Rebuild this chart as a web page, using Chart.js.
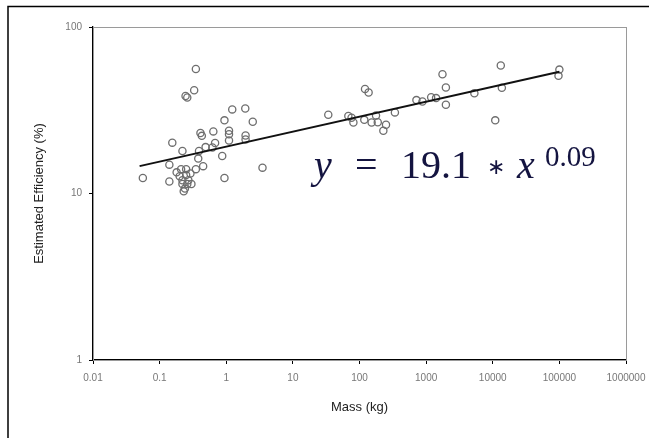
<!DOCTYPE html>
<html>
<head>
<meta charset="utf-8">
<script src="https://cdn.jsdelivr.net/npm/chart.js@4/dist/chart.umd.min.js"></script>
<style>
  html, body { margin: 0; padding: 0; background: #fff; }
  #wrap { width: 649px; height: 438px; }
</style>
</head>
<body>
<div id="wrap"><canvas id="effChart" width="649" height="438"></canvas></div>
<script>
// mass (kg) and estimated efficiency (%)
const massKg = [
  0.056, 0.14, 0.14, 0.155, 0.22, 0.35, 0.245, 0.26, 0.33,
  0.18, 0.21, 0.25, 0.2, 0.25, 0.29, 0.22, 0.27, 0.22, 0.26, 0.24, 0.23, 0.30,
  0.35, 0.38, 0.39, 0.45, 0.41, 0.43, 0.49, 0.64, 0.62, 0.68, 0.87, 0.94, 0.94,
  1.1, 1.1, 1.1, 1.23, 1.93, 1.95, 1.95, 2.5, 3.5,
  34, 68, 76, 81, 121, 137, 118, 152, 177, 188, 250, 228, 340,
  715, 880, 1190, 1410, 1760, 1980, 1980, 5300, 10900, 13200, 13700, 100000, 97000
];
const efficiency = [
  12.4, 11.8, 14.9, 20.2, 18, 56, 38.5, 37.7, 41.7,
  13.4, 14, 14, 12.7, 12.9, 13.2, 12.0, 12.0, 11.4, 11.4, 10.7, 10.3, 11.4,
  14, 16.2, 18, 14.6, 23.1, 22.2, 19, 23.6, 18.9, 20.1, 16.8, 12.4, 27.5,
  23.8, 22.7, 20.8, 32, 32.4, 22.3, 21.1, 27, 14.3,
  29.7, 29.2, 28.5, 26.7, 42.4, 40.4, 27.7, 26.7, 29.4, 26.8, 25.9, 23.8, 30.7,
  36.4, 35.7, 37.9, 37.4, 52, 43.3, 34.1, 40, 27.5, 58.7, 43.1, 55.5, 50.9
];

// fitted power-law line, y = 19.1 * x^0.09, ends
const fitMass = [0.05, 100000];
const fitEff = [14.6, 53.8];

const xTicks = [0.01, 0.1, 1, 10, 100, 1000, 10000, 100000, 1000000];
const xTickLabels = ['0.01', '0.1', '1', '10', '100', '1000', '10000', '100000', '1000000'];
const yTicks = [1, 10, 100];
const yTickLabels = ['1', '10', '100'];

const tickFont = { family: 'Liberation Sans', size: 10 };
const titleFont = { family: 'Liberation Sans', size: 13 };

// frame, gray plot border and the equation text
const decor = {
  id: 'decor',
  beforeDatasetsDraw(chart) {
    const { ctx, chartArea: a } = chart;
    ctx.save();
    ctx.strokeStyle = '#9a9a9a';
    ctx.lineWidth = 1;
    ctx.strokeRect(a.left + 0.5, a.top + 0.5, a.right - a.left, a.bottom - a.top);
    ctx.restore();
  },
  afterDraw(chart) {
    const ctx = chart.ctx;
    ctx.save();
    ctx.strokeStyle = '#000';
    ctx.lineWidth = 1.5;
    ctx.strokeRect(8, 6.5, 700, 500);

    ctx.fillStyle = '#141440';
    ctx.textBaseline = 'alphabetic';
    ctx.textAlign = 'left';
    const base = 178;
    ctx.font = 'italic 40px "Liberation Serif"';
    ctx.fillText('y', 314, base);
    ctx.font = '40px "Liberation Serif"';
    ctx.fillText('=', 355, base);
    ctx.fillText('19.1', 401, base);
    ctx.font = '22px "Liberation Serif"';
    ctx.fillText('\u2217', 487, 174);
    ctx.font = 'italic 40px "Liberation Serif"';
    ctx.fillText('x', 517, base);
    ctx.font = '29px "Liberation Serif"';
    ctx.fillText('0.09', 545, 166);
    ctx.restore();
  }
};

new Chart(document.getElementById('effChart'), {
  type: 'scatter',
  data: {
    datasets: [
      {
        type: 'line',
        data: fitMass.map((m, i) => ({ x: m, y: fitEff[i] })),
        borderColor: '#111',
        borderWidth: 2,
        pointRadius: 0,
        fill: false,
        tension: 0
      },
      {
        data: massKg.map((m, i) => ({ x: m, y: efficiency[i] })),
        pointStyle: 'circle',
        pointRadius: 3.6,
        borderWidth: 1.3,
        borderColor: '#6e6e6e',
        backgroundColor: 'rgba(0,0,0,0)'
      }
    ]
  },
  options: {
    responsive: false,
    animation: false,
    events: [],
    layout: { padding: { top: 27, right: 23, left: 0, bottom: 0 } },
    plugins: { legend: { display: false }, tooltip: { enabled: false } },
    scales: {
      x: {
        type: 'logarithmic',
        min: 0.01,
        max: 1000000,
        afterBuildTicks: s => { s.ticks = xTicks.map(v => ({ value: v })); },
        afterFit: s => { s.height = 78; s.paddingLeft = 0; s.paddingRight = 0; },
        ticks: {
          autoSkip: false,
          maxRotation: 0,
          color: '#777',
          font: tickFont,
          padding: 8,
          callback: (v, i) => xTickLabels[i]
        },
        grid: { drawOnChartArea: false, drawTicks: true, tickLength: 4, color: '#000' },
        border: { display: true, color: '#000', width: 1.3 },
        title: { display: true, text: 'Mass (kg)', color: '#222', font: titleFont, padding: { top: 0, bottom: 23 } }
      },
      y: {
        type: 'logarithmic',
        min: 1,
        max: 100,
        afterBuildTicks: s => { s.ticks = yTicks.map(v => ({ value: v })); },
        afterFit: s => { s.width = 93; s.paddingTop = 0; s.paddingBottom = 0; },
        ticks: {
          color: '#777',
          font: tickFont,
          padding: 7,
          callback: (v, i) => yTickLabels[i]
        },
        grid: { drawOnChartArea: false, drawTicks: true, tickLength: 4, color: '#000' },
        border: { display: true, color: '#000', width: 1.3 },
        title: { display: true, text: 'Estimated Efficiency (%)', color: '#222', font: titleFont, padding: { top: 32, bottom: 0 } }
      }
    }
  },
  plugins: [decor]
});
</script>
</body>
</html>
